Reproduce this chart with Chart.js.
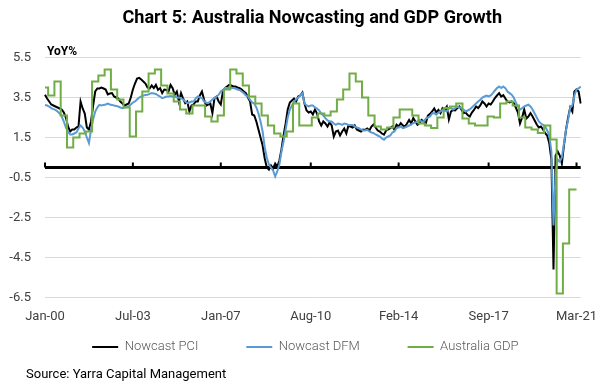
<!DOCTYPE html>
<html>
<head>
<meta charset="utf-8">
<script src="https://cdn.jsdelivr.net/npm/chart.js@4.4.1/dist/chart.umd.min.js"></script>
<style>
html, body { margin: 0; padding: 0; background: #fff; }
#wrap { position: relative; width: 603px; height: 386px; }
#title { position: absolute; left: 11px; top: 6px; width: 603px; text-align: center; line-height: 22px; }
#title span { display: inline-block; font: bold 18px Roboto; color: #000; white-space: nowrap; transform-origin: center; }
#unit { position: absolute; left: 47px; top: 45px; font: bold 12px Roboto; line-height: 12px; color: #000; }
#source { position: absolute; left: 26px; top: 366px; font: 13px Roboto; line-height: 15px; color: #000; }
canvas { position: absolute; left: 0; top: 0; }
</style>
</head>
<body>
<div id="wrap">
  <canvas id="chart" width="603" height="386"></canvas>
  <div id="title"><span>Chart 5: Australia Nowcasting and GDP Growth</span></div>
  <div id="unit">YoY%</div>
  <div id="source">Source: Yarra Capital Management</div>
</div>
<script>
// monthly, Jan-00 .. May-21
const monthNames = ['Jan','Feb','Mar','Apr','May','Jun','Jul','Aug','Sep','Oct','Nov','Dec'];
const monthLabels = [];
for (let i = 0; i < 257; i++) {
  monthLabels.push(monthNames[i % 12] + '-' + String(2000 + Math.floor(i / 12)).slice(2));
}

const xTickLabels = ['Jan-00', 'Jul-03', 'Jan-07', 'Aug-10', 'Feb-14', 'Sep-17', 'Mar-21'];
const yTickValues = [-6.5, -4.5, -2.5, -0.5, 1.5, 3.5, 5.5];

const pciValues = [
  3.64, 3.45, 3.3, 3.15, 3.1, 3.05, 3.0, 2.95, 2.9, 2.75,
  2.5, 2.05, 1.8, 1.9, 1.9, 2.0, 2.05, 3.3, 2.95, 2.7,
  2.0, 1.9, 2.3, 3.1, 3.8, 3.95, 3.95, 4.0, 3.95, 3.9,
  3.65, 3.7, 3.72, 3.55, 3.5, 3.45, 3.3, 3.2, 3.1, 3.15,
  3.2, 3.5, 3.9, 4.2, 4.45, 4.48, 4.4, 4.3, 4.2, 4.0,
  3.95, 4.1, 3.97, 4.13, 3.88, 3.97, 3.72, 3.9, 3.88, 3.8,
  4.13, 3.97, 3.64, 3.8, 3.3, 3.72, 3.45, 3.22, 3.3, 2.8,
  3.1, 3.15, 3.3, 3.3, 3.6, 3.8, 3.4, 3.1, 3.15, 3.2,
  2.72, 3.47, 3.55, 3.3, 3.15, 3.8, 3.97, 4.05, 4.13, 4.1,
  4.05, 4.05, 4.0, 3.97, 3.9, 3.8, 3.72, 3.5, 3.3, 2.65,
  2.6, 2.3, 1.9, 1.5, 1.1, 0.45, 0.0, -0.1, 0.1, -0.05,
  0.2, 0.05, 0.35, 0.9, 1.6, 2.2, 2.9, 3.25, 3.35, 3.45,
  3.3, 3.55, 3.6, 3.75, 3.2, 2.85, 2.75, 2.8, 2.65, 2.9,
  2.7, 2.3, 2.1, 2.3, 2.2, 2.05, 2.25, 2.1, 1.55, 1.8,
  1.85, 1.6, 1.8, 1.95, 1.7, 2.1, 2.05, 2.0, 2.1, 1.9,
  1.85, 1.8, 1.9, 1.88, 1.95, 1.85, 2.05, 2.15, 2.0, 1.85,
  1.8, 1.7, 1.64, 1.85, 1.9, 1.97, 2.05, 1.88, 2.14, 2.05,
  2.22, 2.1, 2.05, 2.2, 2.38, 2.2, 2.47, 2.3, 2.14, 2.22,
  2.38, 2.3, 2.22, 2.6, 2.68, 2.8, 2.95, 2.75, 2.88, 2.72,
  2.97, 2.9, 3.05, 2.4, 2.8, 2.87, 2.85, 2.97, 3.05, 2.9,
  2.72, 2.75, 2.62, 2.55, 2.75, 2.88, 3.05, 2.97, 3.1, 3.3,
  3.2, 3.05, 3.2, 3.15, 3.3, 3.47, 3.6, 3.72, 3.55, 3.62,
  3.45, 3.3, 3.25, 3.3, 3.22, 3.0, 2.75, 2.2, 2.5, 2.9,
  2.45, 2.55, 2.72, 2.55, 2.35, 2.15, 2.0, 2.05, 1.9, 1.72,
  1.6, 1.2, 0.4, -5.1, 0.6, 0.8, 0.6, 0.2, 1.1, 1.9,
  2.5, 3.0, 2.8, 3.8, 3.9, 3.8, 3.2
];

const dfmValues = [
  3.13, 3.1, 3.05, 2.97, 2.92, 2.88, 2.8, 2.7, 2.55, 2.3,
  2.0, 1.8, 1.65, 1.65, 1.7, 1.75, 1.95, 2.1, 2.0, 1.8,
  1.5, 1.22, 1.9, 2.4, 2.8, 3.0, 3.13, 3.1, 3.13, 3.15,
  3.2, 3.15, 3.13, 3.1, 3.08, 3.05, 3.0, 2.97, 3.0, 3.02,
  3.05, 3.15, 3.25, 3.3, 3.4, 3.5, 3.55, 3.6, 3.62, 3.64,
  3.68, 3.72, 3.7, 3.68, 3.6, 3.55, 3.47, 3.5, 3.55, 3.55,
  3.57, 3.55, 3.55, 3.5, 3.5, 3.47, 3.4, 3.3, 3.22, 3.25,
  3.3, 3.3, 3.45, 3.55, 3.5, 3.47, 3.3, 3.25, 3.22, 3.3,
  3.4, 3.47, 3.55, 3.64, 3.8, 3.88, 3.97, 3.97, 3.97, 3.97,
  3.97, 3.95, 3.9, 3.88, 3.8, 3.72, 3.6, 3.55, 3.38, 3.25,
  3.2, 3.0, 2.7, 2.3, 1.8, 1.0, 0.5, 0.15, 0.0, -0.15,
  -0.45, -0.2, 0.15, 0.8, 1.3, 1.9, 2.5, 2.9, 3.1, 3.3,
  3.4, 3.5, 3.6, 3.72, 3.2, 3.1, 3.05, 3.1, 3.1, 3.0,
  2.95, 2.85, 2.7, 2.6, 2.47, 2.35, 2.3, 2.3, 2.2, 2.13,
  2.2, 2.18, 2.13, 2.2, 2.18, 2.13, 2.13, 2.13, 2.05, 2.0,
  1.97, 1.9, 1.85, 1.85, 1.88, 1.8, 1.75, 1.72, 1.65, 1.6,
  1.55, 1.45, 1.39, 1.5, 1.55, 1.6, 1.75, 1.8, 1.97, 2.0,
  2.05, 1.97, 2.0, 2.05, 2.1, 2.15, 2.22, 2.25, 2.3, 2.38,
  2.3, 2.3, 2.45, 2.5, 2.55, 2.7, 2.72, 2.64, 2.75, 2.8,
  2.88, 2.85, 2.8, 2.95, 2.97, 2.9, 2.95, 3.05, 3.0, 2.97,
  2.9, 2.8, 2.85, 2.9, 3.0, 3.1, 3.2, 3.3, 3.38, 3.5,
  3.55, 3.6, 3.55, 3.6, 3.72, 3.85, 3.97, 4.05, 3.97, 4.05,
  3.97, 3.8, 3.72, 3.64, 3.5, 3.25, 3.05, 2.9, 2.97, 3.05,
  3.1, 3.14, 3.05, 2.9, 2.7, 2.5, 2.3, 2.2, 2.14, 2.05,
  1.85, 1.6, 0.8, -2.9, -0.3, 0.4, 0.3, 0.5, 1.2, 1.9,
  2.4, 3.0, 3.1, 3.6, 3.9, 3.95, 4.05
];

// quarterly GDP, Q4-99 .. Q4-20, each held until the next release
const gdpQuarterly = [
  4.0, 3.6, 4.3, 2.6, 1.0, 1.5, 1.7, 1.8, 4.3, 4.6,
  4.9, 3.9, 3.4, 3.0, 1.55, 2.8, 3.8, 4.7, 4.9, 4.1,
  3.7, 3.3, 2.9, 2.7, 3.1, 3.1, 2.55, 2.3, 2.6, 3.9,
  4.9, 4.7, 4.1, 3.55, 3.2, 2.6, 2.1, 1.7, 1.55, 1.8,
  3.2, 2.1, 2.1, 2.5, 2.7, 2.6, 2.8, 3.4, 3.9, 4.7,
  4.3, 3.5, 2.6, 2.05, 1.9, 2.0, 2.5, 2.9, 2.9, 2.6,
  2.2, 2.1, 1.97, 2.5, 2.97, 3.05, 3.2, 2.45, 2.2, 2.1,
  2.1, 2.55, 2.5, 3.2, 3.3, 3.1, 2.5, 2.0, 1.9, 1.72,
  2.1, 1.4, -6.3, -3.8, -1.1
];

const gdpMonthly = monthLabels.map((_, m) =>
  m > 254 ? null : gdpQuarterly[Math.min(Math.floor((m + 1) / 3), gdpQuarterly.length - 1)]
);

// thick zero axis with small tick marks
const zeroAxis = {
  id: 'zeroAxis',
  afterLayout(chart) {
    // nudge the legend so it sits centred under the plot like the original
    chart.legend.left += 15;
    chart.legend.right += 15;
  },
  beforeDatasetsDraw(chart) {
    const {ctx, chartArea, scales} = chart;
    const y0 = scales.y.getPixelForValue(0);
    ctx.save();
    ctx.strokeStyle = '#000';
    ctx.lineWidth = 3;
    ctx.beginPath();
    ctx.moveTo(chartArea.left, y0);
    ctx.lineTo(chartArea.right, y0);
    ctx.stroke();
    ctx.lineWidth = 2;
    xTickLabels.forEach(l => {
      const x = scales.x.getPixelForValue(monthLabels.indexOf(l));
      ctx.beginPath();
      ctx.moveTo(x, y0);
      ctx.lineTo(x, y0 - 5);
      ctx.stroke();
    });
    ctx.restore();
  }
};

const tickFont = {family: 'Roboto', size: 13};

new Chart(document.getElementById('chart'), {
  type: 'line',
  data: {
    labels: monthLabels,
    datasets: [
      {label: 'Nowcast PCI', data: pciValues, borderColor: '#000000', backgroundColor: '#000000', order: 3},
      {label: 'Nowcast DFM', data: dfmValues, borderColor: '#5b9bd5', backgroundColor: '#5b9bd5', order: 2},
      {label: 'Australia GDP', data: gdpMonthly, borderColor: '#70ad47', backgroundColor: '#70ad47', stepped: 'middle', order: 1}
    ]
  },
  options: {
    responsive: false,
    animation: false,
    layout: {padding: {top: 57.5, left: 0, right: 22.3, bottom: 22.5}},
    elements: {
      point: {radius: 0},
      line: {borderWidth: 2, tension: 0}
    },
    scales: {
      x: {
        grid: {display: false, drawTicks: false},
        border: {display: false},
        afterFit: s => { s.height = 35; },
        ticks: {
          autoSkip: false, maxRotation: 0, padding: 11, color: '#404040', font: tickFont,
          callback(v) {
            const l = this.getLabelForValue(v);
            return xTickLabels.includes(l) ? l : '';
          }
        }
      },
      y: {
        min: -6.5, max: 5.5,
        afterBuildTicks: s => { s.ticks = yTickValues.map(v => ({value: v})); },
        afterFit: s => { s.width = 45; },
        grid: {color: '#d9d9d9', lineWidth: 1, drawTicks: false},
        border: {display: false},
        ticks: {padding: 14, color: '#404040', font: tickFont, callback: v => v.toFixed(1)}
      }
    },
    plugins: {
      tooltip: {enabled: false},
      legend: {
        position: 'bottom',
        labels: {
          usePointStyle: true, pointStyle: 'line', pointStyleWidth: 26,
          padding: 8, color: '#595959', font: {family: 'Roboto', size: 13, weight: '300'},
          sort: (a, b) => a.datasetIndex - b.datasetIndex,
          generateLabels(chart) {
            const items = Chart.defaults.plugins.legend.labels.generateLabels(chart);
            items.sort((a, b) => a.datasetIndex - b.datasetIndex);
            items.forEach((it, i) => {
              it.lineWidth = 2;
              if (i < items.length - 1) it.text += '\u2003\u2003\u2003';
            });
            return items;
          }
        }
      }
    }
  },
  plugins: [zeroAxis]
});

// squeeze the title to the condensed width of the original
const t = document.querySelector('#title span');
t.style.transform = 'scaleX(' + (380 / t.offsetWidth) + ')';
</script>
</body>
</html>
